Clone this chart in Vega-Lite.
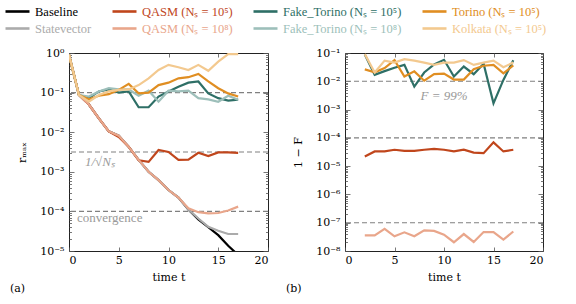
{
  "$schema": "https://vega.github.io/schema/vega-lite/v6.json",
  "padding": {"left": 9, "top": 4, "right": 5, "bottom": 2},
  "config": {
    "font": "Liberation Serif",
    "view": {"stroke": "#222", "strokeWidth": 1},
    "axis": {"domain": false, "grid": false, "labelFont": "DejaVu Serif", "labelFontSize": 11, "labelColor": "#000", "titleFont": "DejaVu Serif", "titleFontSize": 11, "titleFontWeight": "normal", "titleColor": "#000", "tickColor": "#555", "tickWidth": 0.8},
    "legend": {"labelFont": "Liberation Serif"},
    "title": {"font": "DejaVu Serif", "fontSize": 11, "fontWeight": "normal", "color": "#000"}
  },
  "datasets": {
    "rmax": [
      {"t":0,"B":0.9,"S":0.9,"Q5":0.9,"Q8":0.9,"F5":0.9,"F8":0.9,"T5":0.9,"K5":0.92},
      {"t":1,"B":0.0871,"S":0.0871,"Q5":0.0871,"Q8":0.0871,"F5":0.0871,"F8":0.0871,"T5":0.0871,"K5":0.0871},
      {"t":2,"B":0.0501,"S":0.0501,"Q5":0.0501,"Q8":0.0501,"F5":0.0724,"F8":0.0794,"T5":0.0676,"K5":0.0589},
      {"t":3,"B":0.0224,"S":0.0224,"Q5":0.0224,"Q8":0.0224,"F5":0.107,"F8":0.107,"T5":0.0832,"K5":0.0871},
      {"t":4,"B":0.0105,"S":0.0105,"Q5":0.0105,"Q8":0.0105,"F5":0.12,"F8":0.129,"T5":0.0912,"K5":0.107},
      {"t":5,"B":0.00813,"S":0.00813,"Q5":0.00759,"Q8":0.00813,"F5":0.1,"F8":0.12,"T5":0.1175,"K5":0.1175},
      {"t":6,"B":0.00427,"S":0.00427,"Q5":0.00427,"Q8":0.00427,"F5":0.107,"F8":0.12,"T5":0.166,"K5":0.12},
      {"t":7,"B":0.002,"S":0.002,"Q5":0.00195,"Q8":0.002,"F5":0.0427,"F8":0.0832,"T5":0.0955,"K5":0.155},
      {"t":8,"B":0.001,"S":0.001,"Q5":0.00178,"Q8":0.001,"F5":0.0427,"F8":0.112,"T5":0.1,"K5":0.229},
      {"t":9,"B":0.000617,"S":0.000617,"Q5":0.00355,"Q8":0.000617,"F5":0.0794,"F8":0.0589,"T5":0.155,"K5":0.372},
      {"t":10,"B":0.000347,"S":0.000347,"Q5":0.00316,"Q8":0.000347,"F5":0.107,"F8":0.112,"T5":0.178,"K5":0.501},
      {"t":11,"B":0.000224,"S":0.000224,"Q5":0.002,"Q8":0.000224,"F5":0.141,"F8":0.107,"T5":0.229,"K5":0.437},
      {"t":12,"B":0.000112,"S":0.000112,"Q5":0.00204,"Q8":0.00012,"F5":0.178,"F8":0.112,"T5":0.245,"K5":0.372},
      {"t":13,"B":0.0000631,"S":0.0000661,"Q5":0.00302,"Q8":0.0000955,"F5":0.191,"F8":0.0724,"T5":0.295,"K5":0.501},
      {"t":14,"B":0.0000398,"S":0.0000407,"Q5":0.00251,"Q8":0.0000891,"F5":0.0955,"F8":0.0676,"T5":0.191,"K5":0.355},
      {"t":15,"B":0.0000251,"S":0.0000324,"Q5":0.00309,"Q8":0.0000912,"F5":0.0724,"F8":0.0589,"T5":0.129,"K5":0.603},
      {"t":16,"B":0.0000135,"S":0.0000269,"Q5":0.00309,"Q8":0.000105,"F5":0.0631,"F8":0.0832,"T5":0.0955,"K5":0.933},
      {"t":17,"B":0.00000794,"S":0.0000269,"Q5":0.00302,"Q8":0.000132,"F5":0.0661,"F8":0.0661,"T5":0.0794,"K5":0.933}
    ],
    "fid": [
      {"t":2,"F5":0.0891,"T5":0.0263,"K5":0.0912,"Q5":0.0000219,"Q8":3.55e-8},
      {"t":3,"F5":0.017,"T5":0.0209,"K5":0.0204,"Q5":0.0000331,"Q8":3.55e-8},
      {"t":4,"F5":0.0229,"T5":0.0295,"K5":0.0537,"Q5":0.0000331,"Q8":6.03e-8},
      {"t":5,"F5":0.0302,"T5":0.0562,"K5":0.0457,"Q5":0.000038,"Q8":3.31e-8},
      {"t":6,"F5":0.038,"T5":0.0148,"K5":0.0603,"Q5":0.0000347,"Q8":4.57e-8},
      {"t":7,"F5":0.00646,"T5":0.0224,"K5":0.0537,"Q5":0.0000347,"Q8":3.31e-8},
      {"t":8,"F5":0.0204,"T5":0.0105,"K5":0.0457,"Q5":0.000038,"Q8":5.37e-8},
      {"t":9,"F5":0.0398,"T5":0.0178,"K5":0.038,"Q5":0.0000407,"Q8":5.13e-8},
      {"t":10,"F5":0.0575,"T5":0.0186,"K5":0.0457,"Q5":0.000038,"Q8":3.8e-8},
      {"t":11,"F5":0.0148,"T5":0.0115,"K5":0.0457,"Q5":0.0000331,"Q8":2.04e-8},
      {"t":12,"F5":0.0331,"T5":0.0115,"K5":0.0562,"Q5":0.000038,"Q8":3.98e-8},
      {"t":13,"F5":0.0178,"T5":0.0269,"K5":0.038,"Q5":0.0000302,"Q8":2.09e-8},
      {"t":14,"F5":0.0417,"T5":0.0355,"K5":0.0457,"Q5":0.0000288,"Q8":4.68e-8},
      {"t":15,"F5":0.00166,"T5":0.038,"K5":0.0537,"Q5":0.0000692,"Q8":4.68e-8},
      {"t":16,"F5":0.0112,"T5":0.0191,"K5":0.0316,"Q5":0.0000331,"Q8":2.51e-8},
      {"t":17,"F5":0.055,"T5":0.0363,"K5":0.0457,"Q5":0.000038,"Q8":4.9e-8}
    ],
    "refA": [{"v":0.1},{"v":0.00316},{"v":0.0001}],
    "refB": [{"v":0.01},{"v":0.0001},{"v":1e-7}]
  },
  "spacing": 15,
  "hconcat": [
    {
      "width": 199, "height": 198,
      "title": {"text": "(a)", "orient": "bottom", "anchor": "start", "dx": -59, "offset": 1, "frame": "group"},
      "layer": [
        {
          "data": {"name": "refA"},
          "mark": {"type": "rule", "strokeDash": [5, 3], "color": "#808080", "strokeWidth": 1.1},
          "encoding": {"y": {"field": "v", "type": "quantitative", "scale": {"type": "log", "domain": [0.00001, 1]}, "axis": null}}
        },
        {
          "data": {"name": "rmax"},
          "transform": [{"fold": ["B", "S", "Q5", "Q8", "F5", "F8", "T5", "K5"], "as": ["s", "v"]}],
          "mark": {"type": "line", "strokeWidth": 2.2, "clip": true},
          "encoding": {
            "x": {"field": "t", "type": "quantitative", "scale": {"domain": [0, 20], "nice": false},
                  "axis": {"values": [0, 5, 10, 15, 20], "tickSize": -4, "labelPadding": 7, "title": "time t", "titlePadding": 6}},
            "y": {"field": "v", "type": "quantitative", "scale": {"type": "log", "domain": [0.00001, 1]},
                  "axis": {"values": [1, 0.1, 0.01, 0.001, 0.0001, 0.00001, 0.2,0.3,0.4,0.5,0.6,0.7,0.8,0.9, 0.02,0.03,0.04,0.05,0.06,0.07,0.08,0.09, 0.002,0.003,0.004,0.005,0.006,0.007,0.008,0.009, 0.0002,0.0003,0.0004,0.0005,0.0006,0.0007,0.0008,0.0009, 0.00002,0.00003,0.00004,0.00005,0.00006,0.00007,0.00008,0.00009],
                           "labelExpr": "abs(log(datum.value)/LN10 - round(log(datum.value)/LN10)) < 0.001 ? '10' + (datum.value < 0.5 ? '⁻' : '') + substring('⁰¹²³⁴⁵⁶⁷⁸⁹', abs(round(log(datum.value)/LN10)), abs(round(log(datum.value)/LN10)) + 1) : ''",
                           "tickSize": {"condition": {"test": "abs(log(datum.value)/LN10 - round(log(datum.value)/LN10)) < 0.001", "value": -5}, "value": -2.5},
                           "labelPadding": 10, "title": "rₘₐₓ", "titlePadding": 12}},
            "color": {"field": "s", "type": "nominal",
                      "scale": {"domain": ["B", "Q5", "F5", "T5", "S", "Q8", "F8", "K5"], "range": ["#000000", "#c0461c", "#2e6f66", "#e08e22", "#ababab", "#e9a68b", "#9dbfba", "#f3c98f"]},
                      "legend": {"orient": "none", "direction": "horizontal", "legendX": -59, "legendY": -49, "columns": 4, "title": null, "symbolType": "M-2,0H2", "symbolStrokeWidth": 2.6, "symbolSize": 144, "labelFont": "Liberation Serif", "labelFontSize": 12.5, "columnPadding": 15, "rowPadding": 3, "labelOffset": 10, "padding": 0,
                                 "labelExpr": "datum.value == 'B' ? 'Baseline' : datum.value == 'S' ? 'Statevector' : datum.value == 'Q5' ? 'QASM (Nₛ = 10⁵)' : datum.value == 'Q8' ? 'QASM (Nₛ = 10⁸)' : datum.value == 'F5' ? 'Fake_Torino (Nₛ = 10⁵)' : datum.value == 'F8' ? 'Fake_Torino (Nₛ = 10⁸)' : datum.value == 'T5' ? 'Torino (Nₛ = 10⁵)' : 'Kolkata (Nₛ = 10⁵)'",
                                 "encode": {"labels": {"update": {"fill": {"scale": "color", "field": "value"}, "font": {"value": "Liberation Serif"}}}}}}
          }
        },
        {
          "data": {"values": [{"t": 1.6, "v": 0.00175, "label": "1/√Nₛ"}]},
          "mark": {"type": "text", "align": "left", "baseline": "middle", "fontStyle": "italic", "fontSize": 13, "color": "#9a9a9a", "font": "Liberation Serif"},
          "encoding": {"x": {"field": "t", "type": "quantitative", "axis": null}, "y": {"field": "v", "type": "quantitative", "scale": {"type": "log"}, "axis": null}, "text": {"field": "label"}}
        },
        {
          "data": {"values": [{"t": 0.8, "v": 0.000068, "label": "convergence"}]},
          "mark": {"type": "text", "align": "left", "baseline": "middle", "fontSize": 13, "color": "#9a9a9a", "font": "Liberation Serif"},
          "encoding": {"x": {"field": "t", "type": "quantitative", "axis": null}, "y": {"field": "v", "type": "quantitative", "scale": {"type": "log"}, "axis": null}, "text": {"field": "label"}}
        },
        {
          "data": {"name": "rmax"},
          "mark": {"type": "point", "opacity": 0, "clip": true},
          "encoding": {
            "x": {"field": "t", "type": "quantitative", "axis": {"orient": "top", "values": [0, 5, 10, 15, 20], "tickSize": -4, "labels": false, "title": null}},
            "y": {"field": "K5", "type": "quantitative", "scale": {"type": "log"},
                  "axis": {"orient": "right", "labels": false, "title": null, "values": [1, 0.1, 0.01, 0.001, 0.0001, 0.00001, 0.2,0.3,0.4,0.5,0.6,0.7,0.8,0.9, 0.02,0.03,0.04,0.05,0.06,0.07,0.08,0.09, 0.002,0.003,0.004,0.005,0.006,0.007,0.008,0.009, 0.0002,0.0003,0.0004,0.0005,0.0006,0.0007,0.0008,0.0009, 0.00002,0.00003,0.00004,0.00005,0.00006,0.00007,0.00008,0.00009],
                           "tickSize": {"condition": {"test": "abs(log(datum.value)/LN10 - round(log(datum.value)/LN10)) < 0.001", "value": -5}, "value": -2.5}}}
          }
        }
      ],
      "resolve": {"axis": {"x": "independent", "y": "independent"}}
    },
    {
      "width": 198, "height": 198,
      "title": {"text": "(b)", "orient": "bottom", "anchor": "start", "dx": -59, "offset": 1, "frame": "group"},
      "layer": [
        {
          "data": {"name": "refB"},
          "mark": {"type": "rule", "strokeDash": [5, 3], "color": "#808080", "strokeWidth": 1.1},
          "encoding": {"y": {"field": "v", "type": "quantitative", "scale": {"type": "log", "domain": [1e-8, 0.1]}, "axis": null}}
        },
        {
          "data": {"name": "fid"},
          "transform": [{"fold": ["Q5", "Q8", "F5", "T5", "K5"], "as": ["s", "v"]}],
          "mark": {"type": "line", "strokeWidth": 2.2, "clip": true},
          "encoding": {
            "x": {"field": "t", "type": "quantitative", "scale": {"domain": [0, 20], "nice": false},
                  "axis": {"values": [0, 5, 10, 15, 20], "tickSize": -4, "labelPadding": 7, "title": "time t", "titlePadding": 6}},
            "y": {"field": "v", "type": "quantitative", "scale": {"type": "log", "domain": [1e-8, 0.1]},
                  "axis": {"values": [0.1, 0.01, 0.001, 0.0001, 0.00001, 0.000001, 1e-7, 1e-8, 0.02,0.03,0.04,0.05,0.06,0.07,0.08,0.09, 0.002,0.003,0.004,0.005,0.006,0.007,0.008,0.009, 0.0002,0.0003,0.0004,0.0005,0.0006,0.0007,0.0008,0.0009, 0.00002,0.00003,0.00004,0.00005,0.00006,0.00007,0.00008,0.00009, 2e-6,3e-6,4e-6,5e-6,6e-6,7e-6,8e-6,9e-6, 2e-7,3e-7,4e-7,5e-7,6e-7,7e-7,8e-7,9e-7, 2e-8,3e-8,4e-8,5e-8,6e-8,7e-8,8e-8,9e-8],
                           "labelExpr": "abs(log(datum.value)/LN10 - round(log(datum.value)/LN10)) < 0.001 ? '10' + (datum.value < 0.5 ? '⁻' : '') + substring('⁰¹²³⁴⁵⁶⁷⁸⁹', abs(round(log(datum.value)/LN10)), abs(round(log(datum.value)/LN10)) + 1) : ''",
                           "tickSize": {"condition": {"test": "abs(log(datum.value)/LN10 - round(log(datum.value)/LN10)) < 0.001", "value": -5}, "value": -2.5},
                           "labelPadding": 10, "title": "1 − F", "titlePadding": 12}},
            "color": {"field": "s", "type": "nominal"}
          }
        },
        {
          "data": {"values": [{"t": 10, "v": 0.0031, "label": "F = 99%"}]},
          "mark": {"type": "text", "align": "center", "baseline": "middle", "fontStyle": "italic", "fontSize": 13, "color": "#9a9a9a", "font": "Liberation Serif"},
          "encoding": {"x": {"field": "t", "type": "quantitative", "axis": null}, "y": {"field": "v", "type": "quantitative", "scale": {"type": "log"}, "axis": null}, "text": {"field": "label"}}
        },
        {
          "data": {"name": "fid"},
          "mark": {"type": "point", "opacity": 0, "clip": true},
          "encoding": {
            "x": {"field": "t", "type": "quantitative", "axis": {"orient": "top", "values": [0, 5, 10, 15, 20], "tickSize": -4, "labels": false, "title": null}},
            "y": {"field": "K5", "type": "quantitative", "scale": {"type": "log"},
                  "axis": {"orient": "right", "labels": false, "title": null, "values": [0.1, 0.01, 0.001, 0.0001, 0.00001, 0.000001, 1e-7, 1e-8, 0.02,0.03,0.04,0.05,0.06,0.07,0.08,0.09, 0.002,0.003,0.004,0.005,0.006,0.007,0.008,0.009, 0.0002,0.0003,0.0004,0.0005,0.0006,0.0007,0.0008,0.0009, 0.00002,0.00003,0.00004,0.00005,0.00006,0.00007,0.00008,0.00009, 2e-6,3e-6,4e-6,5e-6,6e-6,7e-6,8e-6,9e-6, 2e-7,3e-7,4e-7,5e-7,6e-7,7e-7,8e-7,9e-7, 2e-8,3e-8,4e-8,5e-8,6e-8,7e-8,8e-8,9e-8],
                           "tickSize": {"condition": {"test": "abs(log(datum.value)/LN10 - round(log(datum.value)/LN10)) < 0.001", "value": -5}, "value": -2.5}}}
          }
        }
      ],
      "resolve": {"axis": {"x": "independent", "y": "independent"}}
    }
  ]
}
